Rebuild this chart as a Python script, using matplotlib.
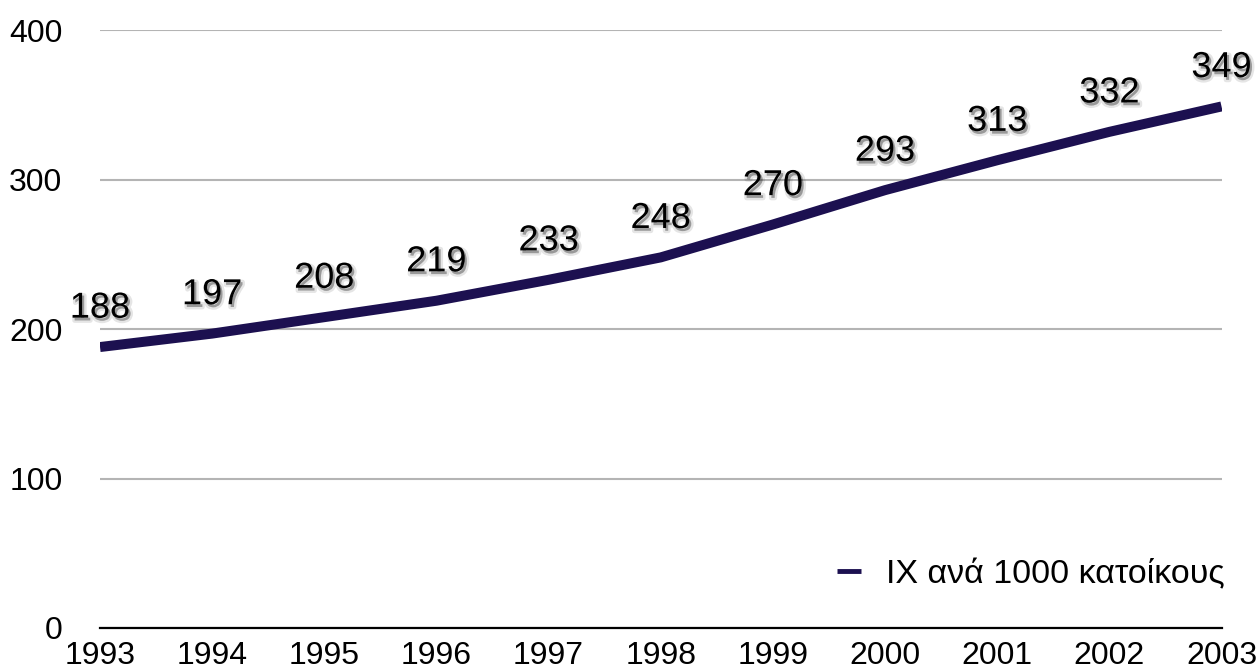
import matplotlib
matplotlib.use("Agg")
import matplotlib.pyplot as plt
import matplotlib.patheffects as pe

plt.rcParams['font.family'] = ['Liberation Sans', 'DejaVu Sans']

years = [1993, 1994, 1995, 1996, 1997, 1998, 1999, 2000, 2001, 2002, 2003]
cars_per_1000 = [188, 197, 208, 219, 233, 248, 270, 293, 313, 332, 349]
series_label = "ΙΧ ανά 1000 κατοίκους"
yticks = [0, 100, 200, 300, 400]

line_color = "#1c1050"

fig = plt.figure(figsize=(12.58, 6.72), dpi=100)
ax = fig.add_axes([0.0795, 0.0655, 0.8915, 0.8895])

ax.plot(years, cars_per_1000, color=line_color, lw=7.2, solid_capstyle='butt',
        label=series_label, zorder=3)

# soft drop shadow under the value labels
shadow = [pe.Stroke(offset=(1.5, -2), linewidth=3.5, foreground='k', alpha=0.10),
          pe.SimplePatchShadow(offset=(1.5, -2), shadow_rgbFace='k', alpha=0.25),
          pe.Normal()]
for x, y in zip(years, cars_per_1000):
    ax.annotate(str(y), (x, y), xytext=(0, 28), textcoords='offset points',
                ha='center', va='center', fontsize=26, color='k',
                path_effects=shadow, zorder=4, annotation_clip=False)

ax.set_xlim(1993, 2003)
ax.set_ylim(0, 400)
ax.set_yticks(yticks)
ax.set_xticks(years)
ax.set_xticklabels([str(y) for y in years])
ax.tick_params(axis='both', length=0, labelsize=23)
ax.tick_params(axis='y', pad=27)
ax.tick_params(axis='x', pad=9.5)

ax.grid(axis='y', color='#b4b4b4', lw=1.5)
ax.set_axisbelow(True)
for s in ['top', 'right', 'left']:
    ax.spines[s].set_visible(False)
ax.spines['bottom'].set_color('k')
ax.spines['bottom'].set_linewidth(1.6)
ax.spines['bottom'].set_zorder(5)

leg = ax.legend(loc='center right', bbox_to_anchor=(1.003, 0.089), frameon=False,
                fontsize=24.5, handlelength=0.7, handletextpad=0.75,
                borderaxespad=0, borderpad=0)
for h in leg.get_lines():
    h.set_linewidth(3.5)

fig.savefig("out.png", dpi=100)
